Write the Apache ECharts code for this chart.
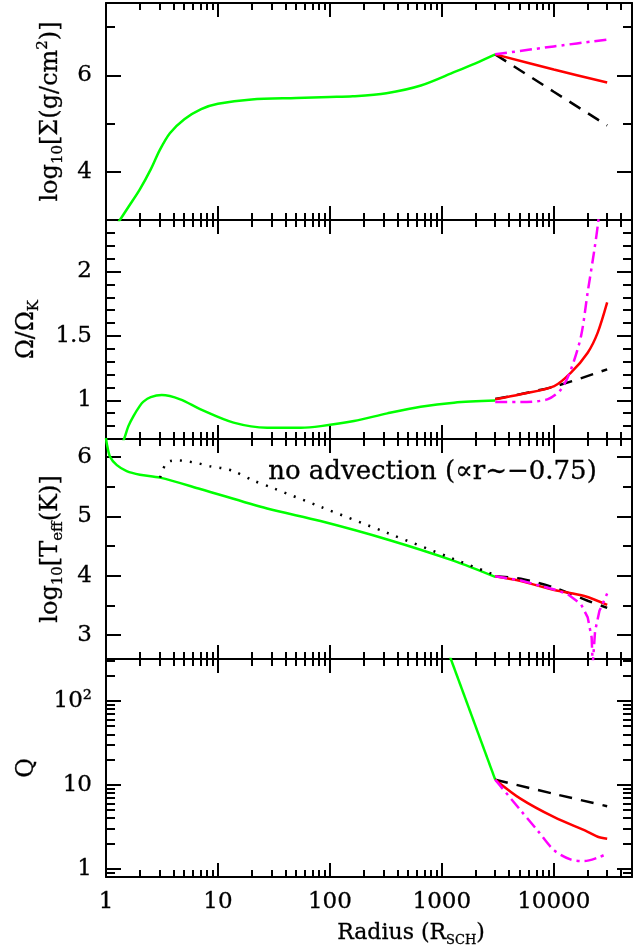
<!DOCTYPE html>
<html>
<head>
<meta charset="utf-8">
<title>Disc profiles vs radius</title>
<script src="https://cdn.jsdelivr.net/npm/echarts@6/dist/echarts.min.js"></script>
<style>
  html, body { margin: 0; padding: 0; background: #fff; }
  #chart { width: 640px; height: 952px; }
</style>
</head>
<body>
<div id="chart"></div>
<script>
// radius range (R_SCH), shared by all four panels
const R_MIN = 1;
const R_MAX = 50000;
const xTickMajor = [1, 10, 100, 1000, 10000];
const xTickLabels = ['1', '10', '100', '1000', '10000'];
const xTickMinor = [2, 3, 4, 5, 6, 7, 8, 9, 20, 30, 40, 50, 60, 70, 80, 90,
  200, 300, 400, 500, 600, 700, 800, 900, 2000, 3000, 4000, 5000, 6000, 7000, 8000, 9000,
  20000, 30000, 40000];

// panel 1: log10 Sigma (g/cm^2)
const sigmaGreenR = [1.2, 1.33, 1.585, 2, 2.51, 3.02, 3.72, 5.01, 7.08, 10, 20, 50, 100, 160, 320, 650, 1300, 2000, 3000];
const sigmaGreen = [2.84, 3.0, 3.27, 3.63, 4.05, 4.45, 4.8, 5.09, 5.3, 5.41, 5.5, 5.53, 5.55, 5.565, 5.63, 5.79, 6.07, 6.25, 6.435];
const sigmaOuterR = [3000, 10000, 30000];
const sigmaDashed = [6.435, 5.66, 4.96];
const sigmaRed = [6.435, 6.12, 5.85];
const sigmaDashDot = [6.435, 6.6, 6.74];
const sigmaTickMajor = [4, 6];
const sigmaTickLabels = ['4', '6'];
const sigmaTickMinor = [5, 7];

// panel 2: Omega / Omega_K
const omegaGreenR = [1.3, 1.45, 1.585, 1.76, 2.0, 2.16, 2.51, 3.15, 4.6, 7, 13.8, 27.5, 55, 83, 164, 326, 647, 1285, 3000];
const omegaGreen = [0.6, 0.7, 0.8, 0.878, 0.955, 0.99, 1.025, 1.041, 1.008, 0.93, 0.827, 0.788, 0.788, 0.8, 0.839, 0.899, 0.951, 0.982, 0.998];
const omegaDashedR = [3000, 10000, 30000];
const omegaDashed = [1.01, 1.106, 1.241];
const omegaRedR = [3000, 5080, 10100, 14250, 20100, 24700, 30000];
const omegaRed = [1.008, 1.047, 1.111, 1.215, 1.37, 1.526, 1.76];
const omegaDashDotR = [3000, 5080, 8770, 11600, 14250, 17540, 20100, 23070, 25060, 27000];
const omegaDashDot = [0.987, 0.987, 1.008, 1.085, 1.24, 1.5, 1.84, 2.17, 2.4, 2.7];
const omegaTickMajor = [1, 1.5, 2];
const omegaTickLabels = ['1', '1.5', '2'];
const omegaTickMinor = [0.8, 0.9, 1.1, 1.2, 1.3, 1.4, 1.6, 1.7, 1.8, 1.9, 2.1, 2.2, 2.3];

// panel 3: log10 T_eff (K)
const teffGreenR = [1, 1.015, 1.086, 1.25, 1.53, 2.01, 3.04, 6.95, 27.5, 82.4, 326, 1285, 3000];
const teffGreen = [6.32, 6.23, 6.0, 5.86, 5.76, 5.7, 5.65, 5.46, 5.13, 4.92, 4.61, 4.25, 3.98];
const teffNoAdvR = [3.04, 3.37, 3.74, 4.44, 5.46, 6.7, 8.53, 10.9, 13.8, 20.8, 31.5, 82.4, 326, 1285, 3000];
const teffNoAdv = [5.65, 5.86, 5.93, 5.94, 5.92, 5.89, 5.84, 5.81, 5.76, 5.6, 5.47, 5.16, 4.72, 4.28, 4.01];
const teffDashedR = [3000, 5080, 10100, 20100, 30000];
const teffDashed = [3.99, 3.95, 3.8, 3.58, 3.46];
const teffRedR = [3000, 5080, 10100, 18750, 30000];
const teffRed = [3.99, 3.91, 3.76, 3.66, 3.51];
const teffDashDotR = [3000, 5080, 10100, 13300, 17540, 20100, 21800, 22280, 23400, 25600, 30000];
const teffDashDot = [3.99, 3.92, 3.77, 3.69, 3.52, 3.3, 2.96, 2.5, 3.07, 3.41, 3.7];
const teffTickMajor = [3, 4, 5, 6];
const teffTickLabels = ['3', '4', '5', '6'];
const teffTickMinor = [3.5, 4.5, 5.5];

// panel 4: Toomre Q
const qGreenR = [1000, 3000];
const qGreen = [620, 11.5];
const qDashedR = [3000, 10000, 30000];
const qDashed = [11.5, 7.8, 5.55];
const qRedR = [3000, 5080, 10100, 20100, 24700, 30000];
const qRed = [11.5, 6.78, 4.1, 2.75, 2.4, 2.27];
const qDashDotR = [3000, 5080, 7160, 10100, 14250, 18750, 24700, 30000];
const qDashDot = [11.5, 4.92, 2.85, 1.65, 1.28, 1.23, 1.35, 1.51];
const qTickMajor = [1, 10, 100];
const qTickLabels = ['1', '10', '10²'];
const qTickMinor = [0.9, 2, 3, 4, 5, 6, 7, 8, 9, 20, 30, 40, 50, 60, 70, 80, 90, 200, 300];

const FONT = 'DejaVu Serif';
const TICK_FONT = 23;
const GRID_TOP = [3, 220, 439, 659];
const GRID_H = [217, 219, 220, 218];
const LINE = { color: '#000', width: 2 };
// a hair of outline makes the text a little heavier, like the plot's stroke font
const INK = { color: '#000', textBorderColor: '#000', textBorderWidth: 0.3 };

const STYLE = {
  green: { color: '#00ff00', type: 'solid' },
  red: { color: '#ff0000', type: 'solid' },
  dashed: { color: '#000000', type: [13, 9] },
  dashdot: { color: '#ff00ff', type: [12, 5, 3, 5] },
  dotted: { color: '#000000', type: [2, 8] }
};

const nameRich = {
  a: Object.assign({ fontFamily: FONT, fontSize: 24, lineHeight: 30 }, INK),
  b: Object.assign({ fontFamily: FONT, fontSize: 15, lineHeight: 14, verticalAlign: 'bottom' }, INK),
  c: Object.assign({ fontFamily: FONT, fontSize: 15, lineHeight: 14, verticalAlign: 'top' }, INK)
};
const xNameRich = {
  a: Object.assign({ fontFamily: FONT, fontSize: 22, lineHeight: 28 }, INK),
  b: Object.assign({ fontFamily: FONT, fontSize: 13, lineHeight: 12, verticalAlign: 'bottom' }, INK)
};

const panels = [
  {
    min: 3, max: 7.5, log: false,
    major: sigmaTickMajor, labels: sigmaTickLabels, minor: sigmaTickMinor,
    name: '{a|log}{b|10}{a|[Σ(g/cm}{c|2}{a|)]}', nameGap: 40,
    lines: [
      [sigmaGreenR, sigmaGreen, 'green', true],
      [sigmaOuterR, sigmaDashed, 'dashed', false],
      [sigmaOuterR, sigmaRed, 'red', true],
      [sigmaOuterR, sigmaDashDot, 'dashdot', true]
    ]
  },
  {
    min: 0.7, max: 2.4, log: false,
    major: omegaTickMajor, labels: omegaTickLabels, minor: omegaTickMinor,
    name: '{a|Ω/Ω}{b|K}', nameGap: 64,
    lines: [
      [omegaGreenR, omegaGreen, 'green', true],
      [omegaDashedR, omegaDashed, 'dashed', true],
      [omegaRedR, omegaRed, 'red', true],
      [omegaDashDotR, omegaDashDot, 'dashdot', true]
    ]
  },
  {
    min: 2.6, max: 6.3, log: false,
    major: teffTickMajor, labels: teffTickLabels, minor: teffTickMinor,
    name: '{a|log}{b|10}{a|[T}{b|eff}{a|(K)]}', nameGap: 40,
    lines: [
      [teffGreenR, teffGreen, 'green', true],
      [teffNoAdvR, teffNoAdv, 'dotted', true],
      [teffDashedR, teffDashed, 'dashed', true],
      [teffRedR, teffRed, 'red', true],
      [teffDashDotR, teffDashDot, 'dashdot', false]
    ]
  },
  {
    min: Math.pow(10, -0.1), max: Math.pow(10, 2.5), log: true,
    major: qTickMajor, labels: qTickLabels, minor: qTickMinor,
    name: '{a|Q}', nameGap: 64,
    lines: [
      [qGreenR, qGreen, 'green', false],
      [qDashedR, qDashed, 'dashed', true],
      [qRedR, qRed, 'red', true],
      [qDashDotR, qDashDot, 'dashdot', true]
    ]
  }
];

const lg = v => Math.log10(v);
const xLogMax = lg(R_MAX);

function tickAxis(extra) {
  return Object.assign({
    type: 'value',
    splitLine: { show: false },
    axisLine: { show: false, onZero: false },
    axisLabel: { show: false },
    nameMoveOverlap: false
  }, extra);
}

function ticks(values, len) {
  return { show: true, inside: true, length: len, customValues: values, lineStyle: LINE };
}

function tickLabels(pos, texts, margin) {
  return Object.assign({
    show: true, customValues: pos, margin: margin,
    fontFamily: FONT, fontSize: TICK_FONT,
    formatter: v => texts[pos.findIndex(t => Math.abs(t - v) < 1e-6)]
  }, INK);
}

const xAxis = [];
const yAxis = [];
const series = [];

panels.forEach((p, g) => {
  const last = g === panels.length - 1;
  const tMin = p.log ? lg(p.min) : p.min;
  const tMax = p.log ? lg(p.max) : p.max;
  const toTick = v => (p.log ? lg(v) : v);
  const majorPos = p.major.map(toTick);
  const minorPos = p.minor.map(toTick);
  const xMajorPos = xTickMajor.map(lg);
  const xMinorPos = xTickMinor.map(lg);

  // x: data axis (log) + tick axes in log10 space
  xAxis.push({
    type: 'log', logBase: 10, gridIndex: g, min: R_MIN, max: R_MAX, position: 'bottom',
    axisLine: { show: true, onZero: false, lineStyle: LINE },
    axisTick: { show: false }, axisLabel: { show: false }, splitLine: { show: false }
  });
  const bottomMajor = tickAxis({
    gridIndex: g, min: 0, max: xLogMax, position: 'bottom',
    axisTick: ticks(xMajorPos, 14)
  });
  if (last) {
    bottomMajor.axisLabel = tickLabels(xMajorPos, xTickLabels, 14);
    bottomMajor.name = '{a|Radius (R}{b|SCH}{a|)}';
    bottomMajor.nameLocation = 'middle';
    bottomMajor.nameGap = 42;
    bottomMajor.nameTextStyle = { rich: xNameRich, padding: [0, 0, 0, 84] };
  }
  xAxis.push(bottomMajor);
  xAxis.push(tickAxis({ gridIndex: g, min: 0, max: xLogMax, position: 'bottom', axisTick: ticks(xMinorPos, 7) }));
  xAxis.push(tickAxis({
    gridIndex: g, min: 0, max: xLogMax, position: 'top',
    axisLine: { show: true, onZero: false, lineStyle: LINE },
    axisTick: ticks(xMajorPos, 14)
  }));
  xAxis.push(tickAxis({ gridIndex: g, min: 0, max: xLogMax, position: 'top', axisTick: ticks(xMinorPos, 7) }));

  // y: data axis + tick axes
  yAxis.push({
    type: p.log ? 'log' : 'value', logBase: 10, gridIndex: g, min: p.min, max: p.max, position: 'left',
    axisLine: { show: true, onZero: false, lineStyle: LINE },
    axisTick: { show: false }, axisLabel: { show: false }, splitLine: { show: false }
  });
  yAxis.push(tickAxis({
    gridIndex: g, min: tMin, max: tMax, position: 'left',
    axisTick: ticks(majorPos, 15),
    axisLabel: tickLabels(majorPos, p.labels, 14),
    name: p.name, nameLocation: 'middle', nameRotate: 90, nameGap: p.nameGap,
    nameTextStyle: { rich: nameRich }
  }));
  yAxis.push(tickAxis({ gridIndex: g, min: tMin, max: tMax, position: 'left', axisTick: ticks(minorPos, 9) }));
  yAxis.push(tickAxis({
    gridIndex: g, min: tMin, max: tMax, position: 'right',
    axisLine: { show: true, onZero: false, lineStyle: LINE },
    axisTick: ticks(majorPos, 15)
  }));
  yAxis.push(tickAxis({ gridIndex: g, min: tMin, max: tMax, position: 'right', axisTick: ticks(minorPos, 9) }));

  p.lines.forEach(([rs, vs, kind, smooth]) => {
    series.push({
      type: 'line',
      xAxisIndex: g * 5,
      yAxisIndex: g * 5,
      data: rs.map((r, i) => [r, vs[i]]),
      showSymbol: false,
      smooth: smooth ? 0.3 : false,
      clip: true,
      lineStyle: { width: 2.5, color: STYLE[kind].color, type: STYLE[kind].type },
      z: 3
    });
  });
});

const option = {
  animation: false,
  backgroundColor: '#ffffff',
  grid: GRID_TOP.map((t, i) => ({ left: 106, width: 526, top: t, height: GRID_H[i], outerBoundsMode: 'none' })),
  xAxis: xAxis,
  yAxis: yAxis,
  series: series,
  graphic: [{
    type: 'text',
    left: 268,
    top: 459,
    style: {
      text: 'no advection (∝r~−0.75)',
      fontFamily: FONT,
      fontSize: 26,
      fill: '#000',
      stroke: '#000',
      lineWidth: 0.3
    }
  }]
};

const chart = echarts.init(document.getElementById('chart'), null, { renderer: 'canvas' });
chart.setOption(option);
</script>
</body>
</html>
